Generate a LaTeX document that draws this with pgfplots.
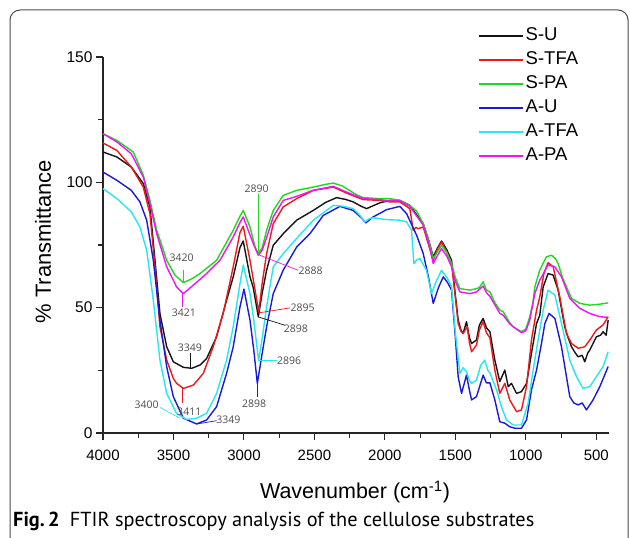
\documentclass[border=0pt]{standalone}
\usepackage{fontspec}
\setmainfont{Liberation Sans}
\newfontfamily\capfont{PT Sans}
\newfontfamily\annfont{Open Sans}
\usepackage{pgfplots}
\pgfplotsset{compat=1.18}
\definecolor{cSU}{RGB}{20,20,20}
\definecolor{cSTFA}{RGB}{235,25,25}
\definecolor{cSPA}{RGB}{30,215,30}
\definecolor{cAU}{RGB}{25,25,215}
\definecolor{cATFA}{RGB}{40,230,240}
\definecolor{cAPA}{RGB}{240,20,240}

\pgfplotstableread{
w T
4000 112.1
3901 110.1
3799 106.1
3714 99.5
3667 90.2
3631 68.9
3596 47.7
3548 34.4
3501 28.4
3430 26.2
3371 25.8
3312 27.1
3265 29.7
3194 38.4
3123 53.0
3076 62.3
3028 74
3005 76.6
2957 62.3
2934 58
2898 46.4
2870 56
2839 65.0
2792 74.9
2721 79.5
2626 84.9
2508 88.8
2420 92
2343 93.9
2280 93.2
2225 92.2
2170 90.5
2130 89.5
2090 90.5
2036 91.8
1965 92.8
1894 92.8
1823 90.8
1728 83.5
1690 77
1657 70.3
1630 73.5
1598 76.6
1560 73
1527 68.9
1500 55
1480 45.0
1460 41
1445 39.7
1421 44.4
1400 38
1385 35.7
1350 37.1
1330 43
1303 45.7
1280 42
1255 40.4
1220 29.1
1185 20.5
1149 25.1
1125 18.5
1102 19.8
1066 15.8
1031 16.5
995 19.8
960 31.8
924 43.7
901 47.0
877 58.3
842 63.6
806 63.0
771 57.0
724 42.4
700 38
676 34.4
650 32
629 30.4
600 31
582 28.4
560 32
546 33.1
499 38.4
470 39
452 40.4
430 39
416 45.0
}\tSU

\pgfplotstableread{
w T
4000 115.7
3901 112.7
3799 106.1
3714 98.1
3667 87.5
3631 66.3
3596 42.4
3548 29.1
3501 21.8
3478 19.8
3430 17.8
3359 19.1
3288 23.8
3218 34.4
3147 47.7
3076 66.3
3028 80
3005 82.5
2957 68.9
2930 60
2895 48.3
2870 60
2839 71.6
2792 83.5
2721 90.2
2626 93.5
2508 96.8
2366 98.1
2272 95.7
2154 93.1
2036 92.8
1965 92.2
1894 92.2
1823 89.5
1799 80.9
1780 82
1764 81.5
1728 82.2
1690 75
1657 68.9
1630 73
1598 76.2
1560 72
1527 67.6
1500 54
1480 43.7
1460 40.5
1445 39.7
1416 42.4
1400 36
1385 32.4
1350 35.1
1330 41
1303 44.4
1280 40
1255 38
1220 25.1
1185 15.8
1149 19.8
1114 13.2
1066 8.5
1031 9.2
995 18.5
960 37.1
924 49.0
901 54.3
872 63.6
842 67.9
806 66.3
759 54.3
712 39.7
676 35.7
629 33.8
582 34.4
546 37.1
499 41.1
452 43.1
416 46.4
}\tSTFA

\pgfplotstableread{
w T
4000 119.4
3901 116.7
3785 112.1
3714 102.8
3667 92.8
3619 80.9
3548 68.9
3490 63
3430 60.0
3370 61.5
3312 63.6
3194 68.9
3076 80.9
3028 86.5
3005 88.8
2957 82.2
2920 74
2898 71.6
2870 74
2839 80.9
2792 88.8
2721 94.8
2626 96.8
2508 98.1
2420 99.2
2366 99.7
2300 98.5
2272 97.5
2200 95
2154 93.9
2036 93.5
1965 93.5
1894 92.8
1823 90.8
1775 88.5
1728 83.5
1690 77
1657 69.6
1630 72
1598 74.9
1560 72
1527 67.6
1500 62
1468 57.6
1397 57.0
1350 57.6
1330 58
1303 60.3
1280 57
1255 56.3
1220 52
1184 49.0
1161 48.4
1114 44
1090 42.4
1031 40.4
1000 41.5
972 46.4
950 52
936 58.3
901 65.0
854 70.3
818 70.9
790 69.5
771 67.6
740 62
712 58.3
676 53.7
617 51.7
546 51.0
475 51.4
416 51.9
}\tSPA

\pgfplotstableread{
w T
4000 104.1
3901 100.8
3799 96.8
3738 92.2
3690 84.9
3643 68.9
3596 45.0
3548 26.4
3501 14.5
3430 5.9
3336 3.6
3265 5.2
3194 10.5
3123 23.8
3076 34.4
3028 50.3
3000 57.4
2957 45.0
2930 33
2905 19.8
2870 32
2839 42.4
2792 55.6
2721 65.0
2626 74.2
2532 79.5
2437 86.8
2319 90.4
2225 88.8
2170 86
2135 83.8
2100 85.5
2083 86.2
1988 89.1
1894 90.4
1846 87.5
1775 78.9
1728 71.6
1690 62
1657 51.7
1620 58
1586 62.3
1555 60
1527 57.0
1500 38
1480 22.4
1456 15.8
1421 23.1
1400 17
1385 13.2
1350 14.5
1303 23.1
1280 20
1255 20
1220 13.2
1185 4.5
1149 3.9
1114 2.5
1078 1.9
1031 1.9
995 5.2
960 17.2
924 25.1
889 35.7
865 43.7
835 47.7
794 45.7
747 34.4
688 14.5
660 12
629 11.2
600 12
570 9.2
523 13.2
475 18.5
416 26.5
}\tAU

\pgfplotstableread{
w T
4000 97.5
3901 93.5
3799 88.2
3738 82.2
3690 72.9
3643 53.0
3596 29.1
3548 15.8
3478 7.8
3407 5.4
3336 5.9
3265 7.8
3194 15.8
3123 29.1
3076 42.4
3028 59.6
3005 67.0
2957 55.6
2930 45
2896 28.8
2870 38
2839 50.3
2792 66.3
2721 71.6
2626 77.6
2508 84.9
2366 90.8
2300 90.5
2225 89.5
2180 87
2142 84.2
2110 85.5
2083 85.9
1988 85.1
1894 84.9
1846 84.2
1811 80.9
1794 67.6
1775 69
1752 69.6
1705 64.9
1669 55.6
1640 60
1598 64.9
1560 62
1527 58.3
1500 40
1468 23.8
1445 26
1421 24.4
1400 21
1385 19.8
1350 21.1
1320 27
1291 29.1
1270 25
1255 24
1208 17.2
1173 10.5
1137 5.2
1090 3.2
1031 3.2
984 11.8
948 25.1
913 37.1
877 49.0
842 57.0
794 55.0
747 43.7
688 29.1
641 22.5
594 17.8
546 18.5
499 22.5
452 26.5
416 32.4
}\tATFA

\pgfplotstableread{
w T
4000 119.4
3901 116.1
3799 111.4
3714 102.1
3667 91.5
3619 79.5
3548 66.3
3478 58.3
3430 55.6
3359 59.0
3265 63.6
3170 68.9
3076 78.2
3028 84
3005 86.2
2957 79
2934 75.6
2898 70.9
2870 73
2839 78
2792 86.2
2721 92.8
2626 94.4
2508 96.8
2366 98.4
2272 96.1
2154 93.5
2036 93.1
1965 92.6
1894 92.6
1823 90.4
1728 82.9
1690 76
1657 67.6
1630 70.5
1598 73.6
1560 70.5
1527 66.3
1500 60.5
1468 56.3
1397 55.6
1350 56.3
1303 58.6
1280 56
1255 54.5
1184 47.7
1161 47.0
1114 43.5
1090 42.4
1031 40.0
1000 40.8
972 45.0
936 55.7
901 61.0
842 67.0
794 66.3
747 62.3
688 53.7
617 49.7
546 47.7
475 46.4
416 46.1
}\tAPA

\begin{document}
\begin{tikzpicture}[x=1pt,y=1pt]
\path[use as bounding box] (0,0) rectangle (630,538);
\draw[line width=1pt, black!70, rounded corners=10pt] (10,-40) -- (10,528) -- (628,528) -- (628,-40);
\begin{axis}[
  scale only axis, width=506pt, height=376pt,
  at={(103pt,105pt)}, anchor=south west,
  x dir=reverse, xmin=410, xmax=4000, ymin=0, ymax=150,
  axis x line*=bottom, axis y line*=left,
  axis line style={line width=1.2pt, black!85, -},
  xtick={500,1000,...,4000}, minor xtick={750,1250,...,3750},
  ytick={0,50,100,150}, minor ytick={25,75,125},
  tick align=outside, major tick length=7pt, minor tick length=5pt,
  every tick/.style={line width=1.1pt, black!85},
  scaled ticks=false,
  /pgf/number format/1000 sep={},
  /pgf/number format/assume math mode=true,
  xticklabel style={font=\fontsize{15}{18}\selectfont, yshift=-6pt},
  yticklabel style={font=\fontsize{15.5}{18}\selectfont},
  every axis y label/.style={at={(axis description cs:-0.1186,0.509)}, anchor=center, rotate=90, font=\fontsize{21.9}{26}\selectfont},
  every axis x label/.style={at={(axis description cs:0.498,-0.157)}, anchor=center, font=\fontsize{21.5}{25}\selectfont},
  xlabel={Wavenumber (cm\textsuperscript{-1})},
  ylabel={\% Transmittance},
  clip=false,
  legend cell align=left,
  legend style={at={(axis description cs:0.741,1.085)}, anchor=north west, draw=none, fill=none,
    font=\fontsize{18.5}{20}\selectfont, inner sep=0pt, row sep=3pt,
    nodes={inner sep=2pt, text height=13.5pt, text depth=3.5pt}},
  legend image code/.code={\draw[line width=1.6pt,#1] (0pt,0pt) -- (44pt,0pt);},
]
\addplot[cSU, line width=1.4pt, line join=round] table[x=w,y=T] {\tSU};
\addlegendentry{S-U}
\addplot[cSTFA, line width=1.4pt, line join=round] table[x=w,y=T] {\tSTFA};
\addlegendentry{S-TFA}
\addplot[cSPA, line width=1.4pt, line join=round] table[x=w,y=T] {\tSPA};
\addlegendentry{S-PA}
\addplot[cAU, line width=1.4pt, line join=round] table[x=w,y=T] {\tAU};
\addlegendentry{A-U}
\addplot[cATFA, line width=1.4pt, line join=round] table[x=w,y=T] {\tATFA};
\addlegendentry{A-TFA}
\addplot[cAPA, line width=1.4pt, line join=round] table[x=w,y=T] {\tAPA};
\addlegendentry{A-PA}

\begin{scope}[every node/.style={font=\annfont\fontsize{10.5}{12}\selectfont, text=black!70, inner sep=1pt}, line width=0.7pt]
\draw[cSPA] (axis cs:3430,65.2) -- (axis cs:3430,60.0);
\node at (axis cs:3442,70.0) {3420};
\draw[cAPA] (axis cs:3435,55.7) -- (axis cs:3435,50.3);
\node at (axis cs:3426,47.9) {3421};
\draw[cSU] (axis cs:3378,31.8) -- (axis cs:3378,25.8);
\node at (axis cs:3383,33.9) {3349};
\draw[cSTFA] (axis cs:3435,17.8) -- (axis cs:3435,11.8);
\node at (axis cs:3388,8.6) {3411};
\draw[cATFA] (axis cs:3596,10.2) -- (axis cs:3454,5.9);
\node at (axis cs:3690,11.2) {3400};
\draw[cAU] (axis cs:3194,4.9) -- (axis cs:3335,3.6);
\node at (axis cs:3111,5.2) {3349};
\draw[cSPA] (axis cs:2898,95.3) -- (axis cs:2898,71.6);
\node at (axis cs:2910,97.5) {2890};
\draw[cAPA] (axis cs:2887,70.9) -- (axis cs:2615,64.9);
\node at (axis cs:2527,64.7) {2888};
\draw[cSTFA] (axis cs:2898,47.9) -- (axis cs:2674,49.9);
\node at (axis cs:2584,49.9) {2895};
\draw[cSU] (axis cs:2898,46.3) -- (axis cs:2709,43.0);
\node at (axis cs:2631,41.7) {2898};
\draw[cATFA] (axis cs:2898,28.8) -- (axis cs:2768,28.8);
\node at (axis cs:2679,28.8) {2896};
\draw[cAU] (axis cs:2906,19.8) -- (axis cs:2906,14.5);
\node at (axis cs:2927,11.8) {2898};
\end{scope}
\end{axis}
\node[anchor=base west, font=\capfont\fontsize{20.3}{24}\selectfont, inner sep=0pt] at (13,11.5)
  {\textbf{Fig.\,2}\hspace{0.5em}FTIR spectroscopy analysis of the cellulose substrates};
\end{tikzpicture}
\end{document}
